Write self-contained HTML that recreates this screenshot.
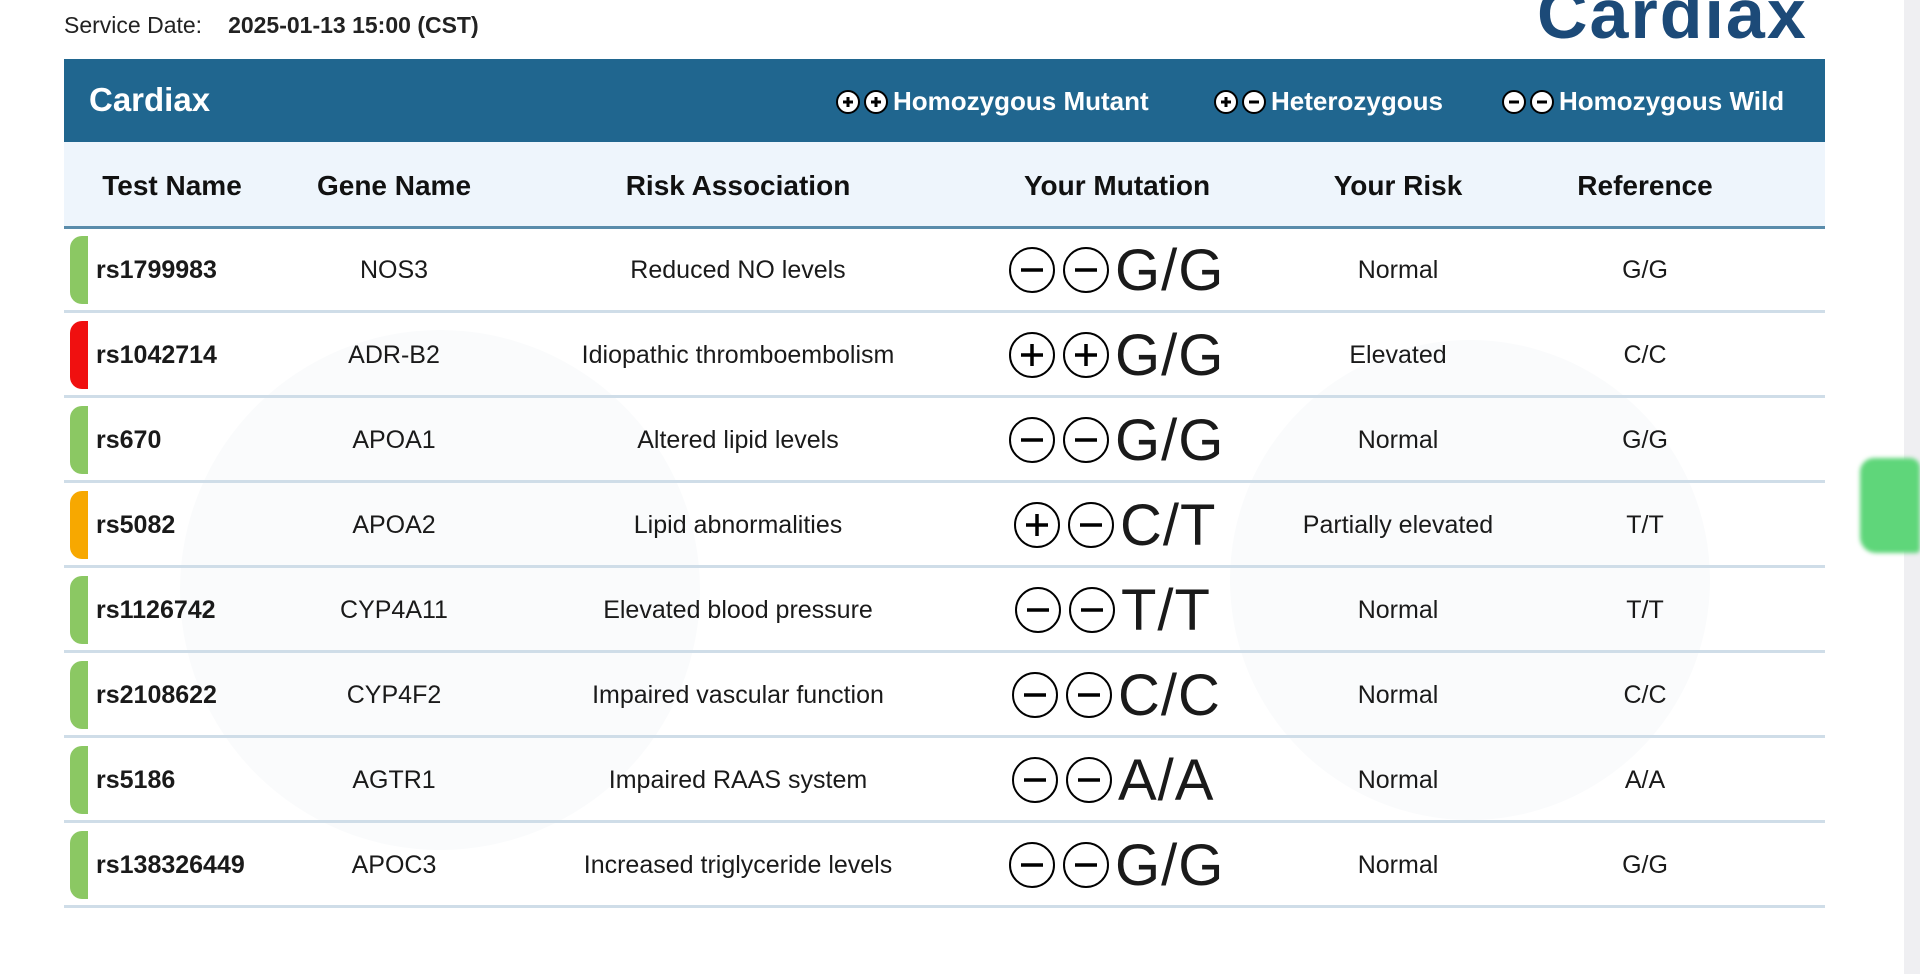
<!DOCTYPE html>
<html><head><meta charset="utf-8"><style>
body{margin:0;width:1920px;height:974px;background:#fff;position:relative;overflow:hidden;font-family:"Liberation Sans",sans-serif;color:#1a1a1a}
.a{position:absolute}
.hdr{left:64px;top:59px;width:1761px;height:83px;background:#20668f}
.ch{left:64px;top:142px;width:1761px;height:84px;background:#eef5fc;border-bottom:3px solid #5a8cab}
.row{left:64px;width:1761px;height:82px;border-bottom:3px solid #cfdde8}
.c{position:absolute;text-align:center;transform:translateX(-50%);white-space:nowrap}
.th{font-size:28px;font-weight:bold;top:28px;color:#111}
.td{font-size:25px;top:28px}
.bar{position:absolute;left:6px;top:8px;width:18px;height:68px;border-radius:12px 0 0 12px}
.mut{position:absolute;top:10px;height:64px;display:flex;align-items:center}
.mut span{font-size:58px;font-weight:normal;letter-spacing:1px;display:inline-block}
.leg{color:#fff;font-size:26px;font-weight:bold;top:27px;display:flex;align-items:center}
.leg svg{margin-right:4px}
</style></head><body>
<div class="a" style="left:64px;top:12px;font-size:23px;color:#222">Service Date:<span style="margin-left:26px;font-weight:bold">2025-01-13 15:00 (CST)</span></div>
<div class="a" style="left:1537px;top:-26px;font-size:70px;font-weight:bold;color:#1c4a78;letter-spacing:2px">Cardiax</div>
<div class="a" style="left:1904px;top:0;width:16px;height:974px;background:#efeff2"></div>
<div class="a" style="left:1860px;top:458px;width:60px;height:95px;background:#5fd67a;border-radius:14px 10px 4px 16px;filter:blur(2px)"></div>
<div class="a" style="left:180px;top:330px;width:520px;height:520px;border-radius:50%;background:#fafbfc"></div>
<div class="a" style="left:1230px;top:340px;width:480px;height:480px;border-radius:50%;background:#fafbfc"></div>

<div class="a hdr">
<div class="a" style="left:25px;top:22px;color:#fff;font-size:33px;font-weight:bold">Cardiax</div>
<div class="a leg" style="left:771px"><svg width="54" height="26"><circle cx="13" cy="13" r="11" fill="#fff" stroke="#000" stroke-width="2"/><path d="M8 13h10M13 8v10" stroke="#000" stroke-width="3"/><circle cx="41" cy="13" r="11" fill="#fff" stroke="#000" stroke-width="2"/><path d="M36 13h10M41 8v10" stroke="#000" stroke-width="3"/></svg>Homozygous Mutant</div>
<div class="a leg" style="left:1149px"><svg width="54" height="26"><circle cx="13" cy="13" r="11" fill="#fff" stroke="#000" stroke-width="2"/><path d="M8 13h10M13 8v10" stroke="#000" stroke-width="3"/><circle cx="41" cy="13" r="11" fill="#fff" stroke="#000" stroke-width="2"/><path d="M36 13h10" stroke="#000" stroke-width="3"/></svg>Heterozygous</div>
<div class="a leg" style="left:1437px"><svg width="54" height="26"><circle cx="13" cy="13" r="11" fill="#fff" stroke="#000" stroke-width="2"/><path d="M8 13h10" stroke="#000" stroke-width="3"/><circle cx="41" cy="13" r="11" fill="#fff" stroke="#000" stroke-width="2"/><path d="M36 13h10" stroke="#000" stroke-width="3"/></svg>Homozygous Wild</div>
</div>
<div class="a ch">
<div class="c th" style="left:108px">Test Name</div>
<div class="c th" style="left:330px">Gene Name</div>
<div class="c th" style="left:674px">Risk Association</div>
<div class="c th" style="left:1053px">Your Mutation</div>
<div class="c th" style="left:1334px">Your Risk</div>
<div class="c th" style="left:1581px">Reference</div>
</div>
<div id="rows"></div>
<script>
const d=[["rs1799983","NOS3","Reduced NO levels","--","G/G","Normal","G/G","#8bc863",943],
["rs1042714","ADR-B2","Idiopathic thromboembolism","++","G/G","Elevated","C/C","#f01010",943],
["rs670","APOA1","Altered lipid levels","--","G/G","Normal","G/G","#8bc863",943],
["rs5082","APOA2","Lipid abnormalities","+-","C/T","Partially elevated","T/T","#f7a800",948],
["rs1126742","CYP4A11","Elevated blood pressure","--","T/T","Normal","T/T","#8bc863",949],
["rs2108622","CYP4F2","Impaired vascular function","--","C/C","Normal","C/C","#8bc863",946],
["rs5186","AGTR1","Impaired RAAS system","--","A/A","Normal","A/A","#8bc863",946],
["rs138326449","APOC3","Increased triglyceride levels","--","G/G","Normal","G/G","#8bc863",943]];
function circ(s){return `<svg width="50" height="50" style="margin-right:4px"><circle cx="25" cy="25" r="22" fill="none" stroke="#000" stroke-width="2"/><path d="M14 25h22${s=='+'?'M25 14v22':''}" stroke="#000" stroke-width="3.5"/></svg>`}
let h="";d.forEach((r,i)=>{h+=`<div class="a row" style="top:${228+i*85}px"><div class="bar" style="background:${r[7]}"></div>
<div class="a td" style="left:32px;top:28px;font-size:25px;font-weight:bold">${r[0]}</div>
<div class="c td" style="left:330px">${r[1]}</div>
<div class="c td" style="left:674px">${r[2]}</div>
<div class="mut" style="left:${r[8]}px">${circ(r[3][0])}${circ(r[3][1])}<span>${r[4]}</span></div>
<div class="c td" style="left:1334px">${r[5]}</div>
<div class="c td" style="left:1581px">${r[6]}</div></div>`});
document.getElementById("rows").innerHTML=h;
</script>
</body></html>
